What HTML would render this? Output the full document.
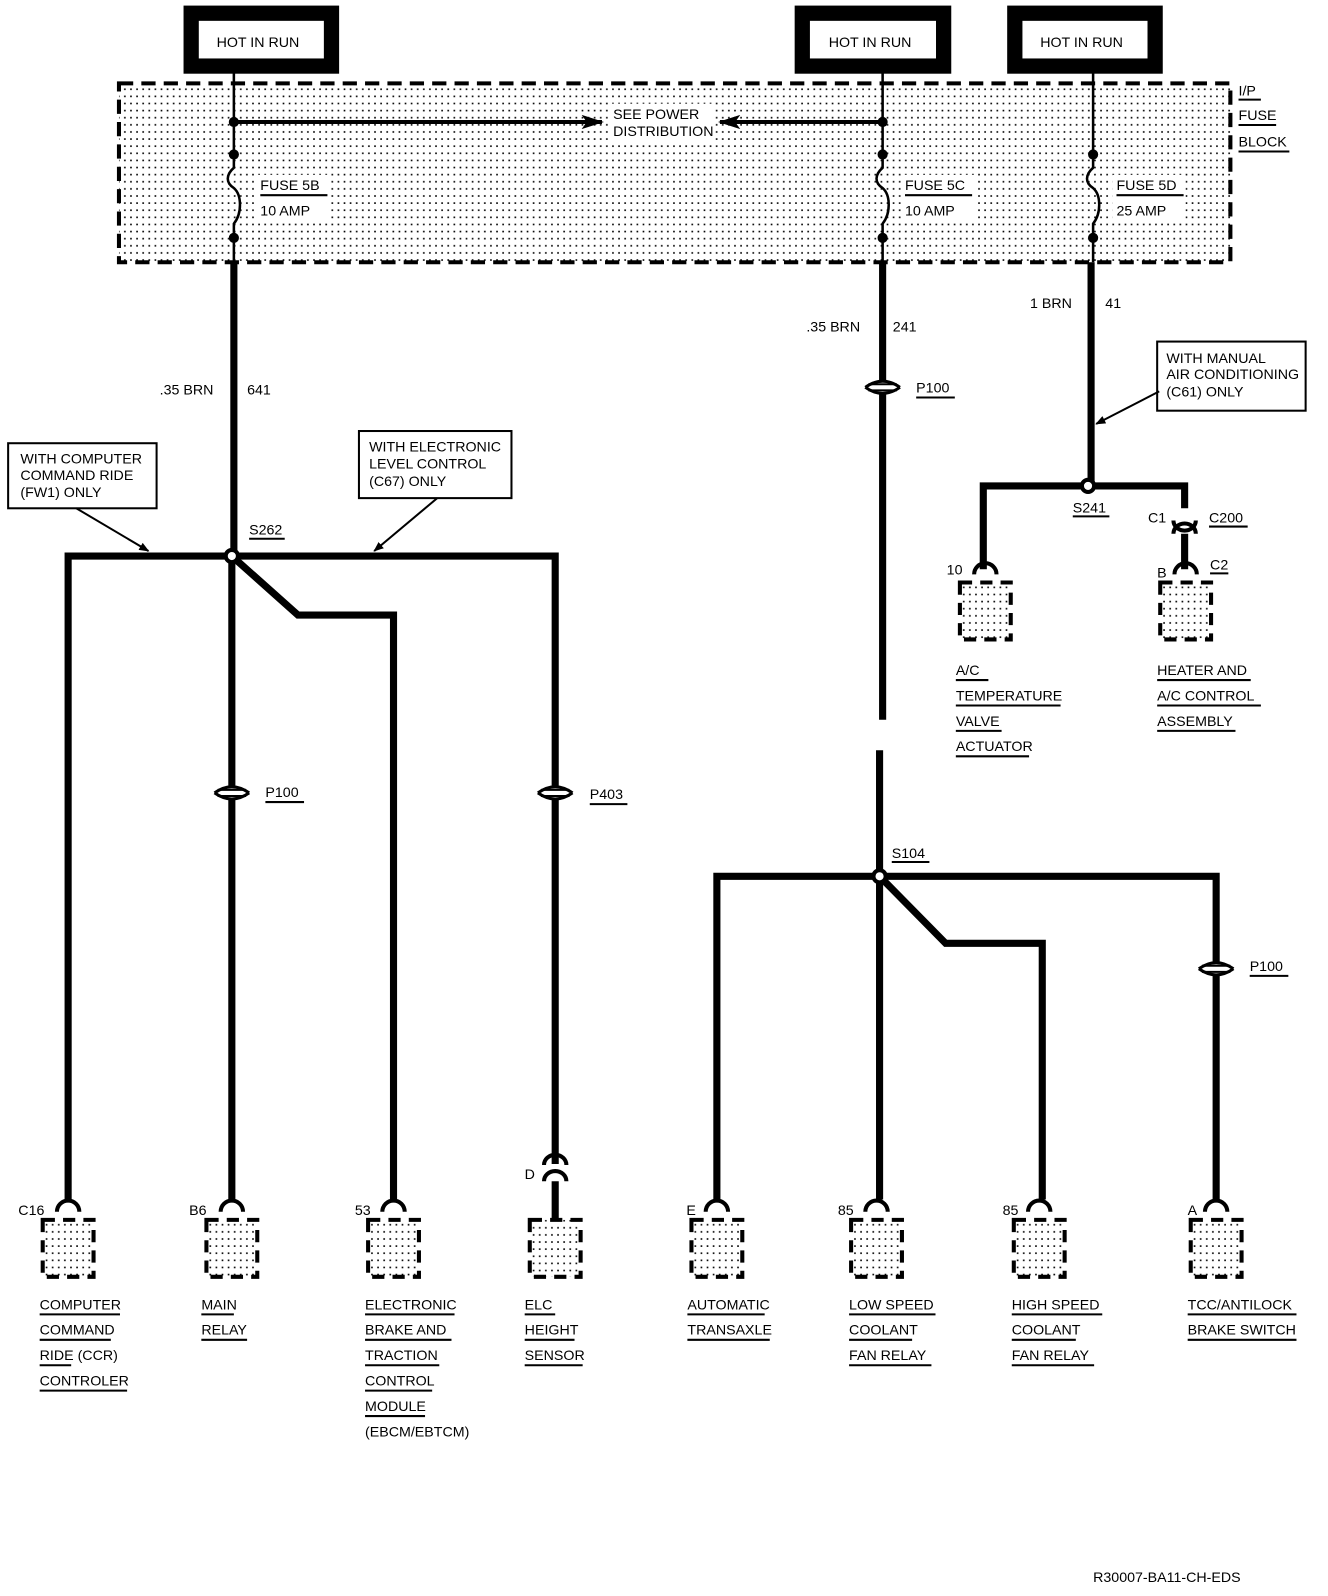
<!DOCTYPE html>
<html><head><meta charset="utf-8"><style>
html,body{margin:0;padding:0;background:#fff;}
svg{display:block;}
text{font-family:"Liberation Sans Narrow","Liberation Sans",sans-serif;font-size:14px;fill:#000;stroke:none;}
</style></head><body>
<svg width="1328" height="1596" viewBox="0 0 1306 1570" preserveAspectRatio="none" xmlns="http://www.w3.org/2000/svg">
<defs>
<pattern id="dots" width="6" height="7" patternUnits="userSpaceOnUse"><rect x="2" y="3" width="1.6" height="1.6" fill="#000"/></pattern>
<marker id="ah" markerWidth="10" markerHeight="8" refX="9" refY="4" orient="auto" markerUnits="userSpaceOnUse"><path d="M0,0 L10,4 L0,8 Z"/></marker>
<marker id="ahb" markerWidth="22" markerHeight="14" refX="20" refY="7" orient="auto" markerUnits="userSpaceOnUse"><path d="M0,0 L22,7 L0,14 L5,7 Z"/></marker>
<g id="conn">
<rect x="-25" y="20" width="50" height="56" fill="url(#dots)"/>
<rect x="-25" y="20" width="50" height="56" fill="none" stroke="#000" stroke-width="4" stroke-dasharray="12,8"/>
<path d="M-11,12 A11,11 0 0 1 11,12" fill="none" stroke="#000" stroke-width="4"/>
</g>
<g id="pin">
<path d="M-17,0 Q0,-12 17,0 M-17,0 Q0,12 17,0" fill="#fff" stroke="#000" stroke-width="3"/>
<line x1="-14" y1="-3" x2="14" y2="-3" stroke="#000" stroke-width="2"/>
<line x1="-14" y1="3" x2="14" y2="3" stroke="#000" stroke-width="2"/>
</g>
</defs>
<g fill="none" stroke="#000" stroke-width="15">
<rect x="188" y="13" width="138" height="52"/>
<rect x="789" y="13" width="139" height="52"/>
<rect x="998" y="13" width="138" height="52"/>
</g>
<text x="213" y="46">HOT IN RUN</text>
<text x="815" y="46">HOT IN RUN</text>
<text x="1023" y="46">HOT IN RUN</text>
<rect x="117" y="82" width="1093" height="176" fill="url(#dots)" stroke="#000" stroke-width="4" stroke-dasharray="14,8"/>
<text x="1218" y="94">I/P</text><line x1="1218" y1="98" x2="1240" y2="98" stroke="#000" stroke-width="2"/>
<text x="1218" y="118">FUSE</text><line x1="1218" y1="123" x2="1255" y2="123" stroke="#000" stroke-width="2"/>
<text x="1218" y="144">BLOCK</text><line x1="1218" y1="149" x2="1268" y2="149" stroke="#000" stroke-width="2"/>
<g fill="none" stroke="#000" stroke-width="2.5">
<path d="M230,72 V165 C222,172 222,180 230,185 C238,192 238,210 230,220 V258"/>
<path d="M868,72 V165 C860,172 860,180 868,185 C876,192 876,210 868,220 V258"/>
<path d="M1075,72 V165 C1067,172 1067,180 1075,185 C1083,192 1083,210 1075,220 V258"/>
</g>
<g fill="#000">
<circle cx="230" cy="120" r="5"/><circle cx="230" cy="152" r="5"/><circle cx="230" cy="234" r="5"/>
<circle cx="868" cy="120" r="5"/><circle cx="868" cy="152" r="5"/><circle cx="868" cy="234" r="5"/>
<circle cx="1075" cy="152" r="5"/><circle cx="1075" cy="234" r="5"/>
</g>
<line x1="230" y1="120" x2="592" y2="120" stroke="#000" stroke-width="4" marker-end="url(#ahb)"/>
<line x1="868" y1="120" x2="708" y2="120" stroke="#000" stroke-width="4" marker-end="url(#ahb)"/>
<rect x="598" y="102" width="104" height="36" fill="#fff"/>
<text x="603" y="117">SEE POWER</text>
<text x="603" y="134">DISTRIBUTION</text>
<rect x="252" y="172" width="72" height="44" fill="#fff"/>
<rect x="886" y="172" width="72" height="44" fill="#fff"/>
<rect x="1094" y="172" width="72" height="44" fill="#fff"/>
<text x="256" y="187">FUSE 5B</text><line x1="256" y1="192" x2="322" y2="192" stroke="#000" stroke-width="2"/>
<text x="256" y="212">10 AMP</text>
<text x="890" y="187">FUSE 5C</text><line x1="890" y1="192" x2="956" y2="192" stroke="#000" stroke-width="2"/>
<text x="890" y="212">10 AMP</text>
<text x="1098" y="187">FUSE 5D</text><line x1="1098" y1="192" x2="1164" y2="192" stroke="#000" stroke-width="2"/>
<text x="1098" y="212">25 AMP</text>

<g fill="none" stroke="#000" stroke-width="7">
<path d="M230,258 V547"/>
<path d="M67,1180 V547 H546 V1145"/>
<path d="M228,547 V1180"/>
<path d="M228,547 L293,605 H387 V1180"/>
<path d="M868,258 V708"/>
<path d="M865,738 V1180"/>
<path d="M705,1180 V862 H1196 V1180"/>
<path d="M865,862 L930,928 H1025 V1180"/>
<path d="M1073,258 V478"/>
<path d="M967,560 V478 H1165 V500"/>
<path d="M1165,525 V560"/>
<path d="M546,1162 V1200"/>
</g>
<circle cx="228" cy="547" r="6" fill="#fff" stroke="#000" stroke-width="4"/>
<circle cx="865" cy="862" r="6" fill="#fff" stroke="#000" stroke-width="4"/>
<circle cx="1070" cy="478" r="6" fill="#fff" stroke="#000" stroke-width="4"/>
<text x="245" y="526">S262</text><line x1="245" y1="530" x2="280" y2="530" stroke="#000" stroke-width="2"/>
<text x="877" y="844">S104</text><line x1="877" y1="848" x2="914" y2="848" stroke="#000" stroke-width="2"/>
<text x="1055" y="504">S241</text><line x1="1055" y1="508" x2="1091" y2="508" stroke="#000" stroke-width="2"/>

<text x="157" y="388">.35 BRN</text><text x="243" y="388">641</text>
<text x="793" y="326">.35 BRN</text><text x="878" y="326">241</text>
<text x="1013" y="303">1 BRN</text><text x="1087" y="303">41</text>

<use href="#pin" x="228" y="780"/><text x="261" y="784">P100</text><line x1="261" y1="789" x2="299" y2="789" stroke="#000" stroke-width="2"/>
<use href="#pin" x="546" y="780"/><text x="580" y="786">P403</text><line x1="580" y1="791" x2="617" y2="791" stroke="#000" stroke-width="2"/>
<use href="#pin" x="868" y="381"/><text x="901" y="386">P100</text><line x1="901" y1="391" x2="939" y2="391" stroke="#000" stroke-width="2"/>
<use href="#pin" x="1196" y="953"/><text x="1229" y="955">P100</text><line x1="1229" y1="960" x2="1267" y2="960" stroke="#000" stroke-width="2"/>

<g fill="none" stroke="#000" stroke-width="4">
<path d="M1154,512 A11,10 0 0 0 1176,512"/>
<path d="M1154,525 A11,10 0 0 1 1176,525"/>
<path d="M535,1146 A11,10 0 0 1 557,1146"/>
<path d="M535,1162 A11,10 0 0 1 557,1162"/>
</g>
<text x="1129" y="514">C1</text><text x="1189" y="514">C200</text><line x1="1189" y1="518" x2="1227" y2="518" stroke="#000" stroke-width="2"/>
<text x="1138" y="568">B</text><text x="1190" y="560">C2</text><line x1="1190" y1="564" x2="1208" y2="564" stroke="#000" stroke-width="2"/>
<text x="931" y="565">10</text>
<text x="516" y="1160">D</text>

<use href="#conn" x="969" y="553"/>
<use href="#conn" x="1166" y="553"/>
<text x="940" y="664">A/C</text><line x1="940" y1="669" x2="972" y2="669" stroke="#000" stroke-width="2"/>
<text x="940" y="689">TEMPERATURE</text><line x1="940" y1="694" x2="1043" y2="694" stroke="#000" stroke-width="2"/>
<text x="940" y="714">VALVE</text><line x1="940" y1="719" x2="985" y2="719" stroke="#000" stroke-width="2"/>
<text x="940" y="739">ACTUATOR</text><line x1="940" y1="744" x2="1012" y2="744" stroke="#000" stroke-width="2"/>
<text x="1138" y="664">HEATER AND</text><line x1="1138" y1="669" x2="1230" y2="669" stroke="#000" stroke-width="2"/>
<text x="1138" y="689">A/C CONTROL</text><line x1="1138" y1="694" x2="1240" y2="694" stroke="#000" stroke-width="2"/>
<text x="1138" y="714">ASSEMBLY</text><line x1="1138" y1="719" x2="1215" y2="719" stroke="#000" stroke-width="2"/>

<rect x="8" y="436" width="146" height="64" fill="#fff" stroke="#000" stroke-width="2"/>
<text x="20" y="456">WITH COMPUTER</text><text x="20" y="472">COMMAND RIDE</text><text x="20" y="489">(FW1) ONLY</text>
<line x1="75" y1="500" x2="146" y2="542" stroke="#000" stroke-width="2" marker-end="url(#ah)"/>
<rect x="353" y="424" width="150" height="66" fill="#fff" stroke="#000" stroke-width="2"/>
<text x="363" y="444">WITH ELECTRONIC</text><text x="363" y="461">LEVEL CONTROL</text><text x="363" y="478">(C67) ONLY</text>
<line x1="430" y1="490" x2="368" y2="542" stroke="#000" stroke-width="2" marker-end="url(#ah)"/>
<rect x="1138" y="336" width="146" height="68" fill="#fff" stroke="#000" stroke-width="2"/>
<text x="1147" y="357">WITH MANUAL</text><text x="1147" y="373">AIR CONDITIONING</text><text x="1147" y="390">(C61) ONLY</text>
<line x1="1140" y1="385" x2="1078" y2="417" stroke="#000" stroke-width="2" marker-end="url(#ah)"/>

<use href="#conn" x="67" y="1180"/><use href="#conn" x="228" y="1180"/><use href="#conn" x="387" y="1180"/>
<rect x="521" y="1200" width="50" height="56" fill="url(#dots)"/><rect x="521" y="1200" width="50" height="56" fill="none" stroke="#000" stroke-width="4" stroke-dasharray="12,8"/>
<use href="#conn" x="705" y="1180"/><use href="#conn" x="862" y="1180"/><use href="#conn" x="1022" y="1180"/><use href="#conn" x="1196" y="1180"/>
<text x="18" y="1195">C16</text><text x="186" y="1195">B6</text><text x="349" y="1195">53</text>
<text x="675" y="1195">E</text><text x="824" y="1195">85</text><text x="986" y="1195">85</text><text x="1168" y="1195">A</text>

<text x="39" y="1288">COMPUTER</text>
<text x="39" y="1313">COMMAND</text>
<text x="39" y="1338">RIDE (CCR)</text>
<text x="39" y="1363">CONTROLER</text>
<text x="198" y="1288">MAIN</text>
<text x="198" y="1313">RELAY</text>
<text x="359" y="1288">ELECTRONIC</text>
<text x="359" y="1313">BRAKE AND</text>
<text x="359" y="1338">TRACTION</text>
<text x="359" y="1363">CONTROL</text>
<text x="359" y="1388">MODULE</text>
<text x="359" y="1413">(EBCM/EBTCM)</text>
<text x="516" y="1288">ELC</text>
<text x="516" y="1313">HEIGHT</text>
<text x="516" y="1338">SENSOR</text>
<text x="676" y="1288">AUTOMATIC</text>
<text x="676" y="1313">TRANSAXLE</text>
<text x="835" y="1288">LOW SPEED</text>
<text x="835" y="1313">COOLANT</text>
<text x="835" y="1338">FAN RELAY</text>
<text x="995" y="1288">HIGH SPEED</text>
<text x="995" y="1313">COOLANT</text>
<text x="995" y="1338">FAN RELAY</text>
<text x="1168" y="1288">TCC/ANTILOCK</text>
<text x="1168" y="1313">BRAKE SWITCH</text>
<g stroke="#000" stroke-width="2">
<line x1="39" y1="1293" x2="118" y2="1293"/><line x1="39" y1="1318" x2="109" y2="1318"/><line x1="39" y1="1343" x2="70" y2="1343"/><line x1="39" y1="1368" x2="125" y2="1368"/>
<line x1="198" y1="1293" x2="230" y2="1293"/><line x1="198" y1="1318" x2="243" y2="1318"/>
<line x1="359" y1="1293" x2="447" y2="1293"/><line x1="359" y1="1318" x2="444" y2="1318"/><line x1="359" y1="1343" x2="432" y2="1343"/><line x1="359" y1="1368" x2="425" y2="1368"/><line x1="359" y1="1393" x2="418" y2="1393"/>
<line x1="516" y1="1293" x2="546" y2="1293"/><line x1="516" y1="1318" x2="565" y2="1318"/><line x1="516" y1="1343" x2="573" y2="1343"/>
<line x1="676" y1="1293" x2="752" y2="1293"/><line x1="676" y1="1318" x2="757" y2="1318"/>
<line x1="835" y1="1293" x2="920" y2="1293"/><line x1="835" y1="1318" x2="897" y2="1318"/><line x1="835" y1="1343" x2="916" y2="1343"/>
<line x1="995" y1="1293" x2="1084" y2="1293"/><line x1="995" y1="1318" x2="1058" y2="1318"/><line x1="995" y1="1343" x2="1076" y2="1343"/>
<line x1="1168" y1="1293" x2="1275" y2="1293"/><line x1="1168" y1="1318" x2="1275" y2="1318"/>
</g>
<text x="1075" y="1556">R30007-BA11-CH-EDS</text>
</svg>
</body></html>
